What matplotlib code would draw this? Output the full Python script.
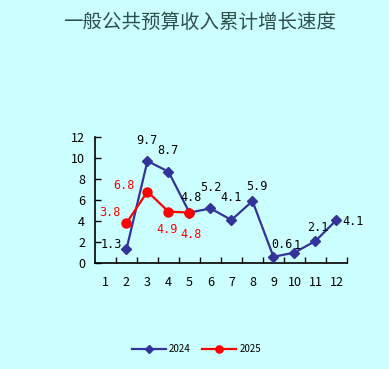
import matplotlib.pyplot as plt
from matplotlib.ticker import FixedLocator

plt.rcParams['font.family'] = ['Noto Sans CJK SC', 'DejaVu Sans']

# data
months = [1, 2, 3, 4, 5, 6, 7, 8, 9, 10, 11, 12]
month_labels = ['1', '2', '3', '4', '5', '6', '7', '8', '9', '10', '11', '12']
x_2024 = [2, 3, 4, 5, 6, 7, 8, 9, 10, 11, 12]
v_2024 = [1.3, 9.7, 8.7, 4.8, 5.2, 4.1, 5.9, 0.6, 1.0, 2.1, 4.1]
lab_2024 = ['1.3', '9.7', '8.7', '4.8', '5.2', '4.1', '5.9', '0.6', '1', '2.1', '4.1']
x_2025 = [2, 3, 4, 5]
v_2025 = [3.8, 6.8, 4.9, 4.8]
lab_2025 = ['3.8', '6.8', '4.9', '4.8']
yticks = [0, 2, 4, 6, 8, 10, 12]

# label offsets in pixels (style only)
off_2024 = [(-15, 5), (0, 21), (0, 21), (2, 15), (0, 21), (0, 22), (4, 15), (8, 12), (3, 7), (2, 14), (17, -2)]
off_2025 = [(-17, 11), (-23, 6), (-1, -18), (2, -22)]

bg = '#CCFFFF'
fig = plt.figure(figsize=(3.89, 3.69), dpi=100, facecolor=bg)
ax = fig.add_axes([0.244, 0.287, 0.648, 0.342])
ax.set_facecolor(bg)

ax.plot(x_2024, v_2024, color='#333399', lw=1.6, marker='D', ms=5.5, label='2024', zorder=3)
ax.plot(x_2025, v_2025, color='#FF0000', lw=1.6, marker='o', ms=6.5, label='2025', zorder=4)

for x, v, t, o in zip(x_2024, v_2024, lab_2024, off_2024):
    ax.annotate(t, (x, v), xytext=o, textcoords='offset pixels', ha='center', va='center',
                fontsize=8.5, color='black', family='DejaVu Sans Mono', annotation_clip=False)
for x, v, t, o in zip(x_2025, v_2025, lab_2025, off_2025):
    ax.annotate(t, (x, v), xytext=o, textcoords='offset pixels', ha='center', va='center',
                fontsize=8.5, color='#FF0000', family='DejaVu Sans Mono', annotation_clip=False)

ax.set_xlim(0.5, 12.5)
ax.set_ylim(0, 12)
ax.set_yticks(yticks)
ax.set_xticks(months)
ax.set_xticklabels(month_labels)
ax.xaxis.set_minor_locator(FixedLocator([m + 0.5 for m in months]))
ax.tick_params(axis='x', which='major', length=0, pad=9, labelsize=9)
ax.tick_params(axis='x', which='minor', direction='in', length=4, width=1)
ax.tick_params(axis='y', direction='in', length=4, width=1, labelsize=9, pad=7)
for s in ['top', 'right']:
    ax.spines[s].set_visible(False)
for s in ['left', 'bottom']:
    ax.spines[s].set_linewidth(1.2)

fig.text(0.514, 0.94, '一般公共预算收入累计增长速度', ha='center', va='center',
         fontsize=14, color='#2F4F4F')

fig.legend(loc='center', bbox_to_anchor=(0.505, 0.054), ncol=2, frameon=False,
           fontsize=7, handlelength=3.5, columnspacing=1.2, handletextpad=0.3,
           markerscale=0.8)

fig.savefig('out.png', dpi=100, facecolor=bg)
